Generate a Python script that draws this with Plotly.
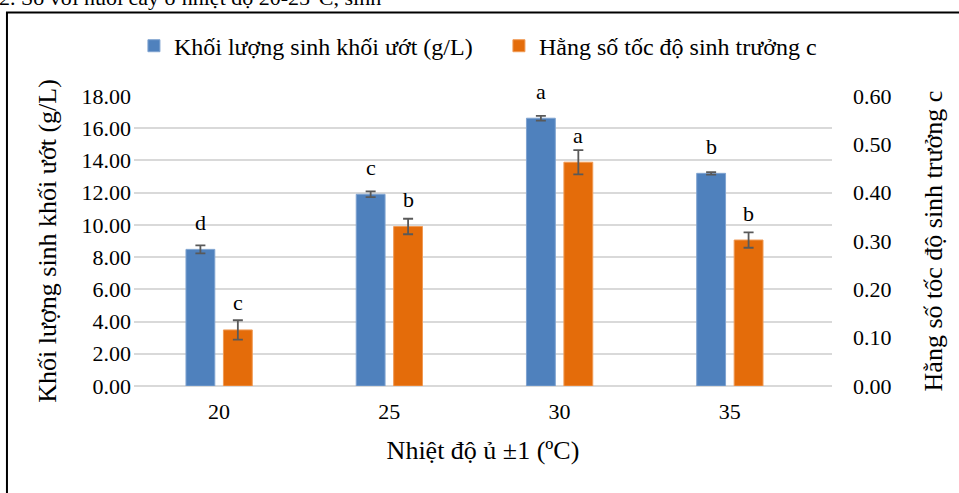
import plotly.graph_objects as go

temps = ["20", "25", "30", "35"]
biomass = [8.48, 11.90, 16.62, 13.20]
biomass_err = [0.25, 0.18, 0.15, 0.08]
rate = [0.116, 0.330, 0.463, 0.302]
rate_err = [0.020, 0.016, 0.025, 0.016]
biomass_letters = ["d", "c", "a", "b"]
rate_letters = ["c", "b", "a", "b"]

name_biomass = "Khối lượng sinh khối ướt (g/L)"
name_rate = "Hằng số tốc độ sinh trưởng c"

FONT = "Liberation Serif"
BLUE = "#4F81BD"
ORANGE = "#E46C0A"
ERRC = "#595959"
GRID = "#D9D9D9"

BARGAP = 0.56
slot = (1 - BARGAP) / 2

fig = go.Figure()
fig.add_trace(go.Bar(
    x=temps, y=biomass, name=name_biomass, marker=dict(color=BLUE, line=dict(color="#7FA3D0", width=1)),
    error_y=dict(type="data", array=biomass_err, color=ERRC, thickness=1.8, width=5),
    offsetgroup="1", yaxis="y",
))
fig.add_trace(go.Bar(
    x=temps, y=rate, name=name_rate, marker=dict(color=ORANGE, line=dict(color="#F09A55", width=1)),
    error_y=dict(type="data", array=rate_err, color=ERRC, thickness=1.8, width=5),
    offsetgroup="2", yaxis="y2",
))

annotations = []
for i, (v, t) in enumerate(zip(biomass, biomass_letters)):
    annotations.append(dict(x=i - slot / 2, y=v, xref="x", yref="y", text=t, showarrow=False,
                            yanchor="middle", yshift=27, font=dict(family=FONT, size=22, color="#000")))
for i, (v, t) in enumerate(zip(rate, rate_letters)):
    annotations.append(dict(x=i + slot / 2, y=v, xref="x", yref="y2", text=t, showarrow=False,
                            yanchor="middle", yshift=27, font=dict(family=FONT, size=22, color="#000")))

# cropped document text line above the chart
annotations.append(dict(x=-0.196, y=1.3397, xref="paper", yref="paper", xanchor="left", yanchor="middle",
                        text="2. So với nuôi cấy ở nhiệt độ 20-25°C, sinh", showarrow=False,
                        font=dict(family=FONT, size=22, color="#000")))

fig.update_layout(
    width=959, height=493,
    margin=dict(l=134, r=127, t=96, b=107, autoexpand=False),
    paper_bgcolor="white", plot_bgcolor="white",
    barmode="group", bargap=BARGAP, bargroupgap=0.23,
    font=dict(family=FONT, size=22, color="#000"),
    showlegend=True,
    legend=dict(orientation="h", x=-0.0001, xanchor="left", y=1.172, yanchor="middle",
                bgcolor="rgba(0,0,0,0)",
                font=dict(family=FONT, size=24, color="#000"), itemwidth=30,
                entrywidth=320, entrywidthmode="pixels"),
    xaxis=dict(type="category", range=[-0.5, 3.6], showgrid=False, showline=False, ticks="", automargin=False,
               tickfont=dict(family=FONT, size=22, color="#000"), ticklabelstandoff=10,
               title=dict(text="Nhiệt độ ủ ±1 (ºC)", font=dict(family=FONT, size=26, color="#000"), standoff=17)),
    yaxis=dict(range=[0, 18], dtick=2, tickformat=".2f", showgrid=True, gridcolor=GRID, gridwidth=1.5,
               zeroline=True, zerolinecolor=GRID, zerolinewidth=1.5, showline=False, ticks="", automargin=False,
               tickfont=dict(family=FONT, size=22, color="#000"), ticklabelstandoff=2,
               title=dict(text=name_biomass, font=dict(family=FONT, size=26, color="#000"), standoff=17)),
    yaxis2=dict(range=[0, 0.6], dtick=0.1, tickformat=".2f", overlaying="y", side="right", showgrid=False,
                zeroline=False, showline=False, ticks="", automargin=False,
                tickfont=dict(family=FONT, size=22, color="#000"), ticklabelstandoff=20,
                title=dict(text=name_rate, font=dict(family=FONT, size=26, color="#000"), standoff=33)),
    annotations=annotations,
    shapes=[dict(type="rect", xref="paper", yref="paper", x0=-0.182, y0=-0.393, x1=1.19, y1=1.288,
                 line=dict(color="#000", width=2), fillcolor="rgba(0,0,0,0)", layer="above")],
)

fig.write_html("out.html", config={"displayModeBar": False},
               post_script="document.body.style.margin='0';document.body.style.overflow='hidden';")
